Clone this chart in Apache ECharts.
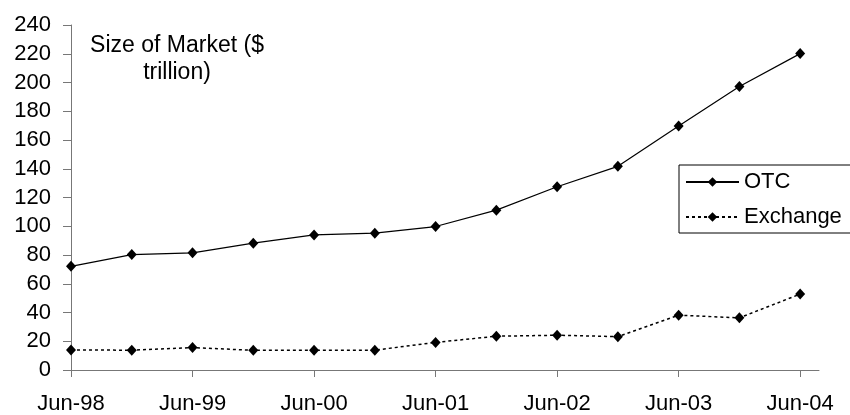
<!DOCTYPE html>
<html>
<head>
<meta charset="utf-8">
<script src="https://cdn.jsdelivr.net/npm/echarts@6/dist/echarts.min.js"></script>
<style>
  html, body { margin: 0; padding: 0; background: #fff; }
  #chart { width: 850px; height: 415px; }
</style>
</head>
<body>
<div id="chart"></div>
<script>
// Half-year observation dates
const periods = ['Jun-98', 'Dec-98', 'Jun-99', 'Dec-99', 'Jun-00', 'Dec-00', 'Jun-01',
                 'Dec-01', 'Jun-02', 'Dec-02', 'Jun-03', 'Dec-03', 'Jun-04'];
// Notional amounts outstanding, $ trillion
const otc      = [72.1, 80.3, 81.5, 88.2, 94.0, 95.2, 99.8, 111.2, 127.5, 141.7, 169.7, 197.2, 220.1];
const exchange = [13.9, 13.8, 15.6, 13.7, 13.8, 13.8, 19.2, 23.5, 24.2, 23.2, 38.1, 36.3, 52.8];
// Labelled x positions (yearly, every second observation)
const xTicks = [0, 2, 4, 6, 8, 10, 12];
const yTicks = { min: 0, max: 240, step: 20 };
const titleText = 'Size of Market ($\ntrillion)';

const FONT = 'Liberation Sans, Arial, sans-serif';
const axisGray = '#777777';

const chart = echarts.init(document.getElementById('chart'), null, { renderer: 'canvas' });

const toPairs = vals => vals.map((v, i) => [i, v]);

chart.setOption({
  animation: false,
  backgroundColor: '#ffffff',
  grid: { left: 71, top: 25, right: 31, bottom: 44, containLabel: false },
  xAxis: {
    type: 'value',
    min: 0,
    max: 12.31,
    splitLine: { show: false },
    axisLine: { show: true, lineStyle: { color: axisGray, width: 1 } },
    axisTick: { show: true, length: 7, lineStyle: { color: axisGray }, customValues: xTicks },
    axisLabel: {
      customValues: xTicks,
      formatter: v => periods[Math.round(v)] || '',
      color: '#000', fontFamily: FONT, fontSize: 22, margin: 23
    }
  },
  yAxis: {
    type: 'value',
    min: yTicks.min,
    max: yTicks.max,
    interval: yTicks.step,
    splitLine: { show: false },
    axisLine: { show: true, lineStyle: { color: axisGray, width: 1 } },
    axisTick: { show: true, length: 8, lineStyle: { color: axisGray } },
    axisLabel: { color: '#000', fontFamily: FONT, fontSize: 22, margin: 20 }
  },
  legend: {
    orient: 'vertical',
    left: 679,
    top: 165,
    padding: [6, 20, 5, 6],
    itemGap: 13,
    itemWidth: 53,
    itemHeight: 12,
    borderColor: '#000',
    borderWidth: 1,
    backgroundColor: '#fff',
    textStyle: { color: '#000', fontFamily: FONT, fontSize: 22, padding: [0, 0, 0, 0] },
    data: ['OTC', 'Exchange']
  },
  graphic: [{
    type: 'text',
    x: 177,
    y: 32,
    style: {
      text: titleText,
      textAlign: 'center',
      textVerticalAlign: 'top',
      font: '23px ' + FONT,
      lineHeight: 27,
      fill: '#000'
    }
  }],
  series: [
    {
      name: 'OTC',
      type: 'line',
      data: toPairs(otc),
      symbol: 'diamond',
      symbolSize: [10, 11],
      showAllSymbol: true,
      lineStyle: { color: '#000', width: 1.2, type: 'solid' },
      itemStyle: { color: '#000' }
    },
    {
      name: 'Exchange',
      type: 'line',
      data: toPairs(exchange),
      symbol: 'diamond',
      symbolSize: [10, 11],
      showAllSymbol: true,
      lineStyle: { color: '#000', width: 1.5, type: [3, 3] },
      itemStyle: { color: '#000' }
    }
  ]
});
</script>
</body>
</html>
